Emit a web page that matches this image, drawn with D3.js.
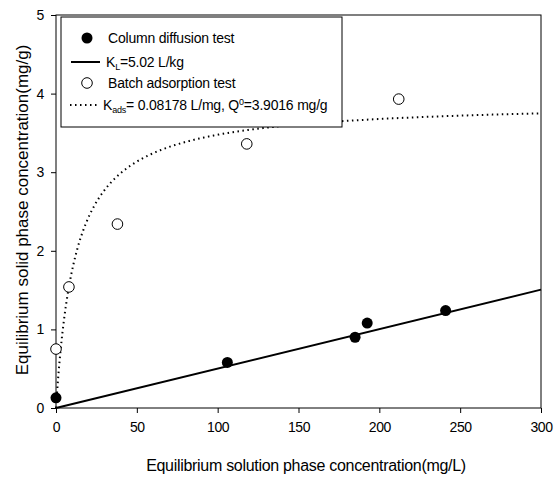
<!DOCTYPE html>
<html>
<head>
<meta charset="utf-8">
<script src="https://cdn.jsdelivr.net/npm/d3@7"></script>
<style>
  body { margin: 0; background: #fff; }
  text { font-family: "Liberation Sans", Arial, sans-serif; fill: #000; }
</style>
</head>
<body>
<script>
var width = 554;
var height = 481;
var margin = { top: 15, right: 13, bottom: 73, left: 56 };

// column diffusion test (filled circles)
var columnC = [0, 106, 185, 192.5, 241];
var columnQ = [0.13, 0.58, 0.9, 1.08, 1.24];

// batch adsorption test (open circles)
var batchC = [0, 8, 38, 118, 212];
var batchQ = [0.75, 1.54, 2.34, 3.36, 3.93];

// fitted parameters from the legend
var KL = 5.02;          // L/kg
var Kads = 0.08178;     // L/mg
var Q0 = 3.9016;        // mg/g

var xTicks = [0, 50, 100, 150, 200, 250, 300];
var yTicks = [0, 1, 2, 3, 4, 5];

var x = d3.scaleLinear().domain([0, 300]).range([margin.left, width - margin.right]);
var y = d3.scaleLinear().domain([0, 5]).range([height - margin.bottom, margin.top]);

var svg = d3.select('body').append('svg')
  .attr('width', width)
  .attr('height', height);

// cornice
svg.append('rect')
  .attr('x', x(0)).attr('y', y(5))
  .attr('width', x(300) - x(0)).attr('height', y(0) - y(5))
  .style('fill', 'none').style('stroke', '#000').style('stroke-width', 1);

// assi
var xAxis = svg.append('g')
  .attr('transform', 'translate(0,' + y(0) + ')')
  .call(d3.axisBottom(x).tickValues(xTicks).tickFormat(d3.format('d')).tickSize(5).tickPadding(9).tickSizeOuter(0));
var yAxis = svg.append('g')
  .attr('transform', 'translate(' + x(0) + ',0)')
  .call(d3.axisLeft(y).tickValues(yTicks).tickFormat(d3.format('d')).tickSize(5).tickPadding(7).tickSizeOuter(0));
[xAxis, yAxis].forEach(function (a) {
  a.select('.domain').remove();
  a.selectAll('line').style('stroke', '#000');
  a.selectAll('text').style('font-size', '14px').style('letter-spacing', '-0.4px')
    .style('font-family', '"Liberation Sans", Arial, sans-serif');
});

// isoterma lineare (colonna)
var lineData = [0, 300];
svg.append('path')
  .attr('d', d3.line().x(function (c) { return x(c); }).y(function (c) { return y(KL * c / 1000); })(lineData))
  .style('fill', 'none').style('stroke', '#000').style('stroke-width', 2);

// isoterma di langmuir (batch)
var curveC = d3.range(0, 300.5, 0.5);
svg.append('path')
  .attr('d', d3.line()
    .x(function (c) { return x(c); })
    .y(function (c) { return y(Q0 * Kads * c / (1 + Kads * c)); })(curveC))
  .style('fill', 'none').style('stroke', '#000').style('stroke-width', 2)
  .style('stroke-dasharray', '1.5,3.5');

// punti
svg.selectAll('circle.col')
  .data(columnC)
  .enter()
  .append('circle')
  .attr('class', 'col')
  .attr('cx', function (d) { return x(d); })
  .attr('cy', function (d, i) { return y(columnQ[i]); })
  .attr('r', 5.5)
  .style('fill', '#000');

svg.selectAll('circle.batch')
  .data(batchC)
  .enter()
  .append('circle')
  .attr('class', 'batch')
  .attr('cx', function (d) { return x(d); })
  .attr('cy', function (d, i) { return y(batchQ[i]); })
  .attr('r', 5.3)
  .style('fill', '#fff').style('stroke', '#000').style('stroke-width', 1);

// legenda
var lg = svg.append('g');
lg.append('rect')
  .attr('x', 61).attr('y', 17).attr('width', 281).attr('height', 110)
  .style('fill', '#fff').style('stroke', '#000').style('stroke-width', 1);

lg.append('circle').attr('cx', 87).attr('cy', 38).attr('r', 5.5).style('fill', '#000');
lg.append('line').attr('x1', 71).attr('x2', 100).attr('y1', 62).attr('y2', 62)
  .style('stroke', '#000').style('stroke-width', 2);
lg.append('circle').attr('cx', 87).attr('cy', 83).attr('r', 5.3)
  .style('fill', '#fff').style('stroke', '#000');
lg.append('line').attr('x1', 70).attr('x2', 98).attr('y1', 105).attr('y2', 105)
  .style('stroke', '#000').style('stroke-width', 2).style('stroke-dasharray', '1.5,3.5');

var fs = '14px';
var ls = '-0.2px';
lg.append('text').attr('x', 108).attr('y', 43).style('font-size', fs).style('letter-spacing', ls)
  .text('Column diffusion test');
var t2 = lg.append('text').attr('x', 106).attr('y', 67).style('font-size', fs).style('letter-spacing', ls);
t2.append('tspan').text('K');
t2.append('tspan').attr('dy', 3).style('font-size', '9px').text('L');
t2.append('tspan').attr('dy', -3).text('=5.02 L/kg');
lg.append('text').attr('x', 108).attr('y', 88).style('font-size', fs).style('letter-spacing', ls)
  .text('Batch adsorption test');
var t4 = lg.append('text').attr('x', 103).attr('y', 110).style('font-size', fs).style('letter-spacing', ls);
t4.append('tspan').text('K');
t4.append('tspan').attr('dy', 3).style('font-size', '9px').text('ads');
t4.append('tspan').attr('dy', -3).text('= 0.08178 L/mg, Q');
t4.append('tspan').attr('dy', -5).style('font-size', '9px').text('0');
t4.append('tspan').attr('dy', 5).text('=3.9016 mg/g');

// titoli degli assi
svg.append('text')
  .attr('x', 306).attr('y', 471)
  .attr('text-anchor', 'middle')
  .style('font-size', '16px').style('letter-spacing', '-0.3px')
  .text('Equilibrium solution phase concentration(mg/L)');
svg.append('text')
  .attr('transform', 'translate(28,210) rotate(-90)')
  .attr('text-anchor', 'middle')
  .style('font-size', '17px').style('letter-spacing', '0px')
  .text('Equilibrium solid phase concentration(mg/g)');
</script>
</body>
</html>
